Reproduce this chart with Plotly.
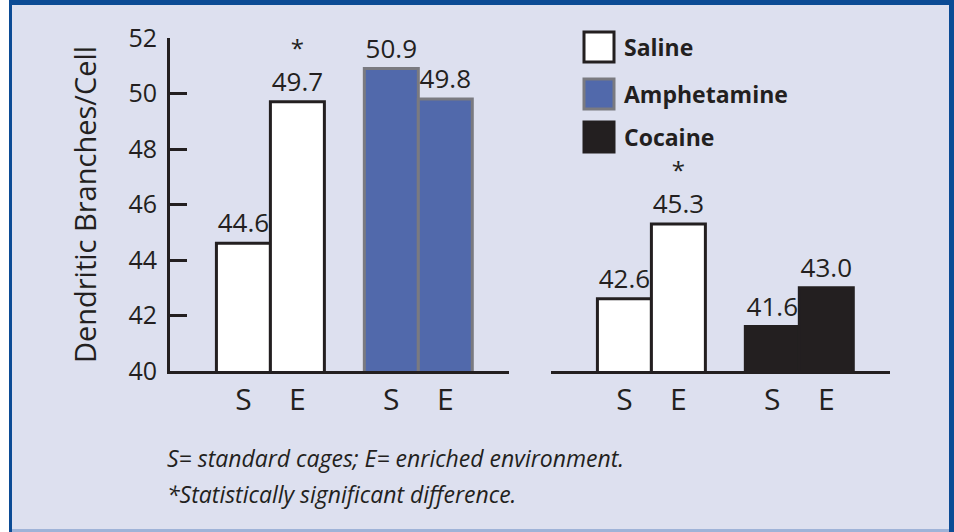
import plotly.graph_objects as go

# ---------------- data ----------------
conditions = ["S", "E"]
left_groups = ["Saline", "Amphetamine"]
right_groups = ["Saline", "Cocaine"]
left_saline = [44.6, 49.7]
left_amphetamine = [50.9, 49.8]
right_saline = [42.6, 45.3]
right_cocaine = [41.6, 43.0]
left_saline_sig = [False, True]
left_amphetamine_sig = [False, False]
right_saline_sig = [False, True]
right_cocaine_sig = [False, False]
y_ticks = [40, 42, 44, 46, 48, 50, 52]
legend_labels = ["Saline", "Amphetamine", "Cocaine"]
y_title = "Dendritic Branches/Cell"
footnotes = ["S= standard cages; E= enriched environment.",
             "*Statistically significant difference."]

# ---------------- styles ----------------
W, H = 954, 532
FONT = "Open Sans"
INK = "#231f20"
BG = "#dde0ef"
BLUE_BAR = "#5169ab"
FRAME = "#0b4b95"

styles = {
    "Saline": dict(fill="#ffffff", line=INK),
    "Amphetamine": dict(fill=BLUE_BAR, line="#7a7a80"),
    "Cocaine": dict(fill=INK, line=INK),
}


def px(x):
    return x / W


def py(y):
    return 1 - y / H


GROUP_START = 1.36
GROUP_STEP = 2.74
X_RANGE = [0, 6.28]


def labels(vals, sig):
    out = []
    for v, s in zip(vals, sig):
        t = f"{v:.1f}"
        if s:
            t = "<span style='font-size:24px'>*</span><br>" + t
        out.append(t)
    return out


fig = go.Figure()

panels = [
    ("x", "y", [("Saline", left_saline, left_saline_sig),
                ("Amphetamine", left_amphetamine, left_amphetamine_sig)]),
    ("x2", "y2", [("Saline", right_saline, right_saline_sig),
                  ("Cocaine", right_cocaine, right_cocaine_sig)]),
]

for xa, ya, groups in panels:
    for gi, (name, vals, sig) in enumerate(groups):
        xs = [GROUP_START + gi * GROUP_STEP + ci for ci in range(len(conditions))]
        st = styles[name]
        fig.add_trace(go.Bar(
            x=xs, y=vals, width=1.0,
            marker=dict(color=st["fill"], line=dict(color=st["line"], width=3)),
            text=labels(vals, sig), textposition="outside",
            textfont=dict(family=FONT, size=26, color=INK),
            constraintext="none", cliponaxis=False,
            xaxis=xa, yaxis=ya, showlegend=False, name=name,
            hoverinfo="skip",
        ))

tickvals = [GROUP_START + gi * GROUP_STEP + ci for gi in range(2) for ci in range(2)]
ticktext = conditions * 2

ydom = [py(371), py(38)]
xaxis_common = dict(range=X_RANGE, tickvals=tickvals, ticktext=ticktext,
                    showline=True, linewidth=3, linecolor=INK, ticks="",
                    showgrid=False, zeroline=False, fixedrange=True,
                    tickfont=dict(family=FONT, size=30, color=INK))

fig.update_layout(
    width=W, height=H, autosize=False,
    margin=dict(l=0, r=0, t=0, b=0, pad=0),
    paper_bgcolor="#ffffff",
    plot_bgcolor="rgba(0,0,0,0)",
    showlegend=False,
    barmode="overlay",
    font=dict(family=FONT, color=INK),
    xaxis=dict(domain=[px(170), px(509)], anchor="y", automargin=False, **xaxis_common),
    xaxis2=dict(domain=[px(551), px(890)], anchor="y2", automargin=False, **xaxis_common),
    yaxis=dict(domain=ydom, range=[40, 52], tickvals=y_ticks, automargin=False,
               ticks="inside", ticklen=17, tickwidth=3, tickcolor=INK,
               showline=True, linewidth=3, linecolor=INK,
               showgrid=False, zeroline=False, fixedrange=True,
               ticklabelstandoff=5,
               tickfont=dict(family=FONT, size=25, color=INK),
               title=dict(text=y_title, font=dict(family=FONT, size=29, color=INK),
                          standoff=24)),
    yaxis2=dict(domain=ydom, range=[40, 52], anchor="x2", matches="y", automargin=False,
                showline=False, showticklabels=False, ticks="",
                showgrid=False, zeroline=False, fixedrange=True),
)

# frame / background
shapes = [
    dict(type="rect", xref="paper", yref="paper", x0=px(9), x1=1, y0=0, y1=1,
         fillcolor=BG, line=dict(width=0), layer="below"),
    dict(type="rect", xref="paper", yref="paper", x0=px(9), x1=1, y0=py(5), y1=1,
         fillcolor=FRAME, line=dict(width=0), layer="below"),
    dict(type="rect", xref="paper", yref="paper", x0=px(9), x1=px(12), y0=0, y1=1,
         fillcolor=FRAME, line=dict(width=0), layer="below"),
    dict(type="rect", xref="paper", yref="paper", x0=px(949), x1=1, y0=0, y1=1,
         fillcolor=FRAME, line=dict(width=0), layer="below"),
    dict(type="rect", xref="paper", yref="paper", x0=px(12), x1=px(949), y0=0, y1=py(529),
         fillcolor="#9fb3d8", line=dict(width=0), layer="below"),
]

# legend boxes
legend_rows = [(32, 62), (79, 109), (122, 152)]
for lab, (y0, y1) in zip(legend_labels, legend_rows):
    st = styles[lab]
    shapes.append(dict(type="rect", xref="paper", yref="paper",
                       x0=px(584), x1=px(614), y0=py(y1), y1=py(y0),
                       fillcolor=st["fill"], line=dict(color=st["line"], width=3)))
    fig.add_annotation(xref="paper", yref="paper", x=px(622), y=py((y0 + y1) / 2),
                       xanchor="left", yanchor="middle", showarrow=False,
                       text=f"<b>{lab}</b>",
                       font=dict(family=FONT, size=23, color=INK))

for i, line in enumerate(footnotes):
    fig.add_annotation(xref="paper", yref="paper", x=px(165), y=py(458 + 36 * i),
                       xanchor="left", yanchor="middle", showarrow=False,
                       text=f"<i>{line}</i>",
                       font=dict(family=FONT, size=23, color=INK))

fig.update_layout(shapes=shapes)

fig.write_html(
    "out.html",
    config={"displayModeBar": False},
    post_script="document.body.style.margin='0';document.body.style.overflow='hidden';",
)
